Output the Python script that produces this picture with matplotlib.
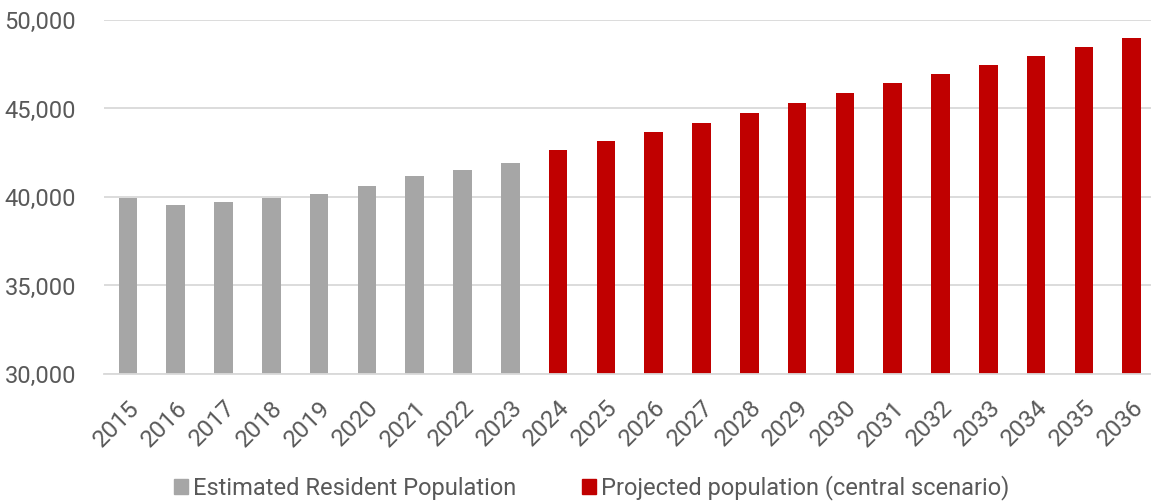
import matplotlib.pyplot as plt
import matplotlib.transforms as mtransforms
from matplotlib.ticker import FuncFormatter
from matplotlib.patches import Patch

plt.rcParams['font.family'] = ['Roboto', 'DejaVu Sans']

# estimated resident population (grey) then projections (red)
erp_years = [2015, 2016, 2017, 2018, 2019, 2020, 2021, 2022, 2023]
erp_values = [39950, 39570, 39700, 39960, 40170, 40640, 41180, 41500, 41900]

proj_years = [2024, 2025, 2026, 2027, 2028, 2029, 2030, 2031, 2032, 2033, 2034, 2035, 2036]
proj_values = [42640, 43150, 43660, 44200, 44760, 45310, 45870, 46440, 46950, 47460, 47970, 48480, 49000]

grey = '#A6A6A6'
red = '#C00000'
txt = '#595959'

fig = plt.figure(figsize=(11.51, 5.03), dpi=100)
ax = fig.add_axes([0.0903, 0.2565, 0.9137, 0.7038])

years = erp_years + proj_years
xpos = list(range(len(years)))
n_erp = len(erp_years)

ax.bar(xpos[:n_erp], erp_values, width=0.39, color=grey, zorder=2)
ax.bar(xpos[n_erp:], proj_values, width=0.39, color=red, zorder=2)

ax.set_xlim(-0.5, len(years) - 0.5)
ax.set_ylim(30000, 50000)
ax.set_yticks([30000, 35000, 40000, 45000, 50000])
ax.yaxis.set_major_formatter(FuncFormatter(lambda v, p: f'{int(v):,}'))
ax.grid(axis='y', color='#D9D9D9', linewidth=1.3, zorder=0)

ax.set_xticks(xpos)
ax.set_xticklabels([str(y) for y in years], rotation=45, ha='right',
                   rotation_mode='anchor', fontsize=17.5)
# nudge the rotated year labels a touch to the right
shift = mtransforms.ScaledTranslation(4 / 100, 0, fig.dpi_scale_trans)
for lab in ax.get_xticklabels():
    lab.set_transform(lab.get_transform() + shift)

for s in ['top', 'right', 'left']:
    ax.spines[s].set_visible(False)
ax.spines['bottom'].set_color('#D9D9D9')
ax.spines['bottom'].set_linewidth(1.3)
ax.tick_params(axis='both', length=0, colors=txt)
ax.tick_params(axis='y', pad=20, labelsize=17)
ax.tick_params(axis='x', pad=16)

handles = [Patch(color=grey, label='Estimated Resident Population'),
           Patch(color=red, label='Projected population (central scenario)')]
fig.legend(handles=handles, loc='center', bbox_to_anchor=(0.514, 0.03), ncol=2,
           frameon=False, fontsize=17, labelcolor=txt, handlelength=0.6,
           handleheight=0.6, handletextpad=0.2, columnspacing=2.8)

fig.savefig('out.png', dpi=100)
